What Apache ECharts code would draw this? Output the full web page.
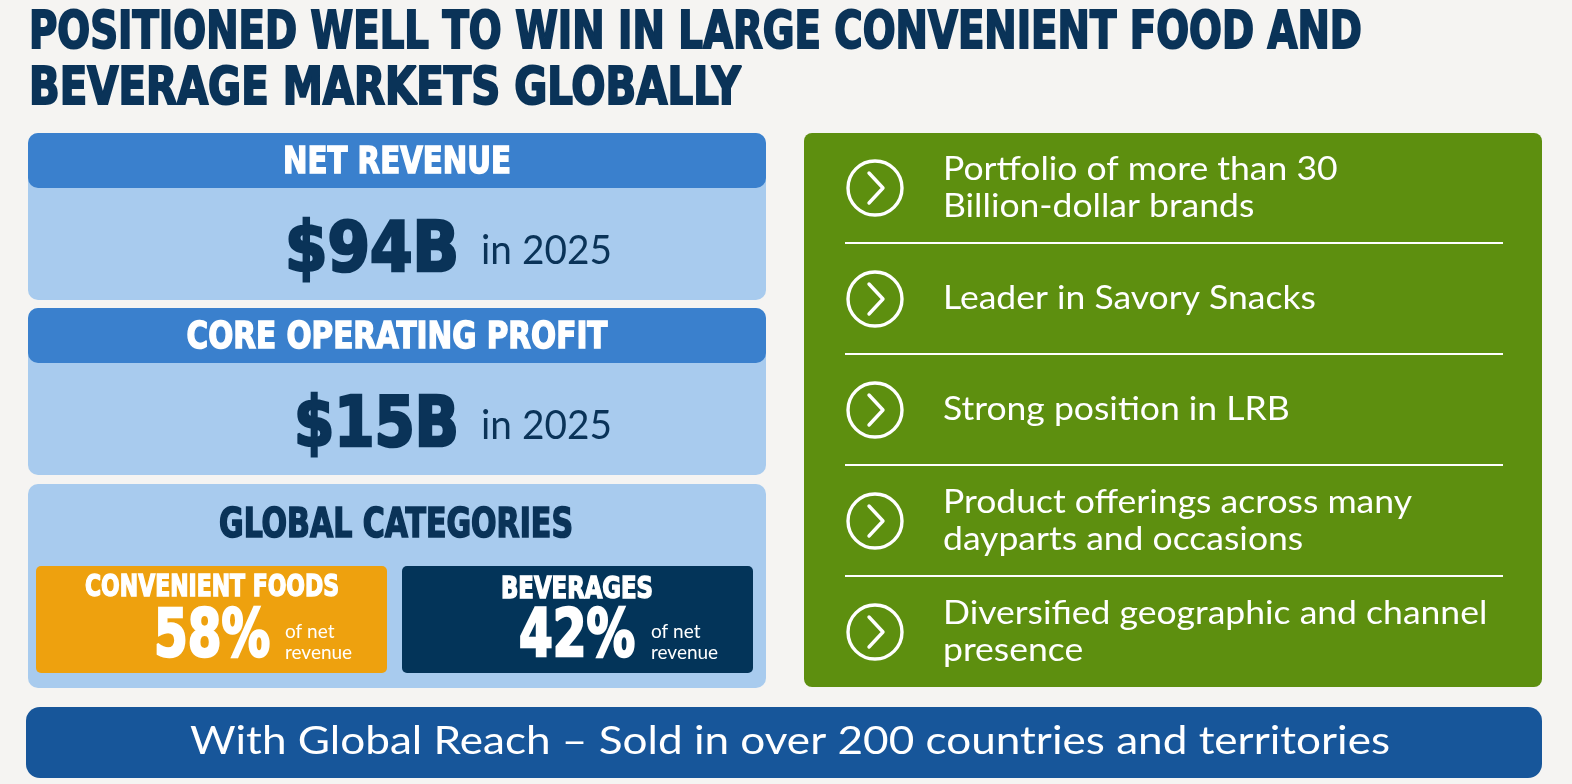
<!DOCTYPE html>
<html>
<head>
<meta charset="utf-8">
<title>Positioned well to win</title>
<style>
  html, body { margin: 0; padding: 0; background: #f5f4f2; }
  #main { width: 1572px; height: 784px; }
</style>
<script src="https://cdn.jsdelivr.net/npm/echarts@6/dist/echarts.min.js"></script>
</head>
<body>
<div id="main"></div>
<script>
var titleLines = ['POSITIONED WELL TO WIN IN LARGE CONVENIENT FOOD AND', 'BEVERAGE MARKETS GLOBALLY'];
var metricNames = ['NET REVENUE', 'CORE OPERATING PROFIT'];
var metricValues = [94, 15];
var metricYear = 2025;
var categoryTitle = 'GLOBAL CATEGORIES';
var categoryNames = ['CONVENIENT FOODS', 'BEVERAGES'];
var categoryShares = [58, 42];
var bulletLines = [
    ['Portfolio of more than 30', 'Billion-dollar brands'],
    ['Leader in Savory Snacks'],
    ['Strong position in LRB'],
    ['Product offerings across many', 'dayparts and occasions'],
    ['Diversified geographic and channel', 'presence']
];
var footerText = 'With Global Reach \u2013 Sold in over 200 countries and territories';

var NAVY = '#0a3358';
var HEAVY = '"DejaVu Sans Condensed", "DejaVu Sans", sans-serif';
var BODY = 'Lato, "Noto Sans", sans-serif';

var measure = document.createElement('canvas').getContext('2d');

function widthOf(text, font) {
    measure.font = font;
    return measure.measureText(text).width;
}

// heavy condensed headings: squeeze a bold face to the width seen in the picture
function heavyText(text, x, y, size, width, color, align) {
    var font = 'bold ' + size + 'px ' + HEAVY;
    return {
        type: 'text',
        x: x,
        y: y,
        scaleX: width / widthOf(text, font),
        style: {
            text: text,
            font: font,
            fill: color,
            stroke: color,
            lineWidth: Math.max(1.4, size / 26),
            align: align || 'center',
            verticalAlign: 'middle'
        }
    };
}

function bodyText(text, x, y, size, color, align, lineHeight, sx) {
    return {
        type: 'text',
        x: x,
        y: y,
        scaleX: sx || 1,
        style: {
            text: text,
            font: size + 'px ' + BODY,
            fill: color,
            align: align || 'left',
            verticalAlign: 'middle',
            lineHeight: lineHeight || size * 1.2
        }
    };
}

function rect(x, y, w, h, r, fill) {
    return { type: 'rect', shape: { x: x, y: y, width: w, height: h, r: r }, style: { fill: fill } };
}

var els = [];

// title
els.push(heavyText(titleLines[0], 29, 35, 51, 1333, NAVY, 'left'));
els.push(heavyText(titleLines[1], 29, 91, 51, 712, NAVY, 'left'));

// metric panels
var panelTop = [133, 308];
var valueWidth = [174, 165];
for (var i = 0; i < metricNames.length; i++) {
    var t = panelTop[i];
    els.push(rect(28, t, 738, 167, 10, '#a8cbee'));
    els.push(rect(28, t, 738, 55, 10, '#3a80cd'));
    els.push(heavyText(metricNames[i], 397, t + 30, 38, i == 0 ? 228 : 421, '#ffffff'));
    els.push(heavyText('$' + metricValues[i] + 'B', 459, t + 120, 69, valueWidth[i], NAVY, 'right'));
    els.push(bodyText('in ' + metricYear, 481, t + 118, 40, NAVY, 'left', 48, 0.97));
}

// global categories
els.push(rect(28, 484, 738, 204, 10, '#a8cbee'));
els.push(heavyText(categoryTitle, 396, 527, 40, 354, NAVY));
var boxX = [36, 402];
var boxFill = ['#eea10e', '#033459'];
var nameWidth = [254, 152];
for (var j = 0; j < categoryNames.length; j++) {
    var bx = boxX[j];
    els.push(rect(bx, 566, 351, 107, 5, boxFill[j]));
    els.push(heavyText(categoryNames[j], bx + (j == 0 ? 176 : 175), j == 0 ? 588 : 590, 30, nameWidth[j], '#ffffff'));
    els.push(heavyText(categoryShares[j] + '%', bx + (j == 0 ? 234 : 233), 639, 65, 116, '#ffffff', 'right'));
    els.push(bodyText('of net\nrevenue', bx + 249, 642, 19, '#ffffff', 'left', 21));
}

// bullet panel
els.push(rect(804, 133, 738, 554, 8, '#5d8f0f'));
for (var k = 0; k < bulletLines.length; k++) {
    var cy = 188 + 111 * k;
    els.push({ type: 'circle', shape: { cx: 875, cy: cy, r: 27 }, style: { fill: null, stroke: '#ffffff', lineWidth: 3.4 } });
    els.push({
        type: 'polyline',
        shape: { points: [[869, cy - 15], [883, cy], [869, cy + 15]] },
        style: { fill: null, stroke: '#ffffff', lineWidth: 3.4, lineCap: 'round', lineJoin: 'round' }
    });
    els.push(bodyText(bulletLines[k].join('\n'), 943, cy, 32, '#ffffff', 'left', 37, 1.11));
    if (k < bulletLines.length - 1) {
        els.push({ type: 'line', shape: { x1: 845, y1: cy + 55, x2: 1503, y2: cy + 55 }, style: { stroke: '#ffffff', lineWidth: 2 } });
    }
}

// footer bar
els.push(rect(26, 707, 1516, 71, 14, '#17569a'));
var footerFont = '38px ' + BODY;
els.push(bodyText(footerText, 790, 742, 38, '#ffffff', 'center', 46, 1200 / widthOf(footerText, footerFont)));

var chart = echarts.init(document.getElementById('main'));
chart.setOption({
    backgroundColor: '#f5f4f2',
    animation: false,
    graphic: { elements: els }
});
</script>
</body>
</html>
